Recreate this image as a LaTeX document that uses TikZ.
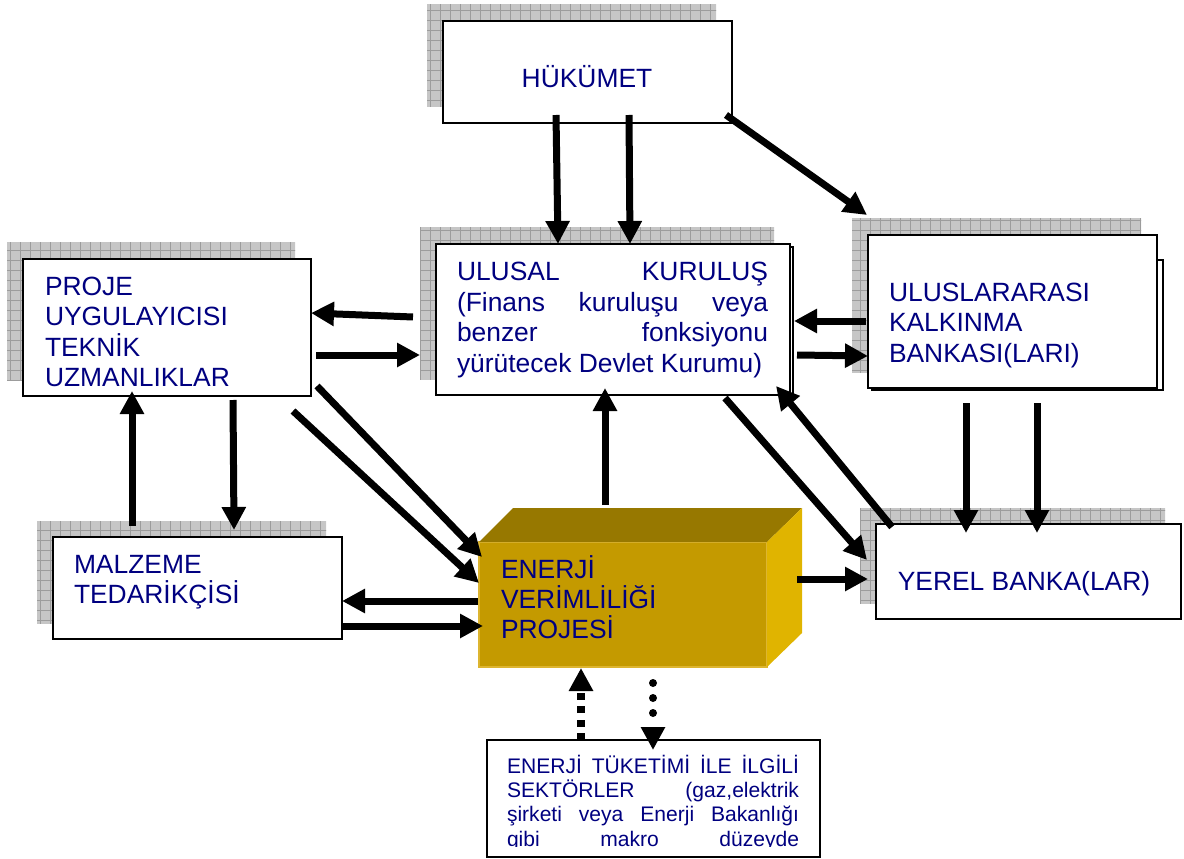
\documentclass[tikz,border=0pt]{standalone}
\usepackage{fontspec}
\setmainfont{Liberation Sans}
\usetikzlibrary{arrows.meta,calc}
\pgfdeclarelayer{bg}
\pgfsetlayers{bg,main}
\definecolor{txt}{HTML}{000080}
\definecolor{shfill}{HTML}{C6C6C6}
\definecolor{shgrid}{HTML}{9C9C9C}
\definecolor{enfront}{HTML}{C49A00}
\definecolor{entop}{HTML}{977800}
\definecolor{enright}{HTML}{E0B400}
\definecolor{enedge}{HTML}{DDB530}
\newcommand\mylines[2]{\vtop{\baselineskip=#1\lineskiplimit=-\maxdimen\lineskip=0pt\relax #2}}
\newcommand\shadowof[1]{%
  \begin{scope}
    \clip ($(#1.north west)+(-16,-16)$) rectangle ($(#1.south east)+(-16,-16)$);
    \fill[shfill] (0,0) rectangle (1184,859);
    \draw[shgrid, line width=0.7pt, step=7.5pt] (0,0) grid (1184,859);
  \end{scope}}
\tikzset{
  box/.style={draw=black, fill=white, line width=1.5pt, inner sep=0pt, outer sep=0pt, anchor=north west},
  sz/.style 2 args={minimum width=#1*0.75pt, minimum height=#2*0.75pt},
  page/.style={draw=black, fill=white, line width=1.5pt},
  lbl/.style={text=txt, inner sep=0pt, outer sep=0pt, font=\fontsize{19.8pt}{22.9pt}\selectfont},
  small/.style={text=txt, inner sep=0pt, outer sep=0pt, font=\fontsize{15.8pt}{18.3pt}\selectfont},
  arr/.style={line width=5.25pt, -{Triangle[length=17.25pt,width=17.25pt]}},
  dasharr/.style={line width=5.6pt, dash pattern=on 5.25pt off 4.8pt, -{Triangle[length=17.25pt,width=17.25pt]}},
  dotarr/.style={line width=6pt, line cap=round, dash pattern=on 0pt off 11.25pt on 0pt off 11.25pt on 0pt off 40pt, -{Triangle[length=17.25pt,width=17.25pt]}},
}
\begin{document}
\begin{tikzpicture}[x=0.75pt,y=-0.75pt]
\useasboundingbox (0,0) rectangle (1184,859);

% boxes
\node[box,sz={289}{102}] (hk) at (443,21) {};
\node[box,sz={354}{151}] (ul) at (436,244) {};
\node[box,sz={289}{153}] (ub) at (868,235) {};
\node[box,sz={288}{137}] (pr) at (23,259) {};
\node[box,sz={289}{102}] (ml) at (53,537) {};
\node[box,sz={305}{95}] (yb) at (876,524) {};
\node[box,sz={333}{117}] (bt) at (487,740) {};

% energy project block
\node[sz={288}{125}, anchor=north west, fill=enfront, draw=enedge, line width=0.8pt, inner sep=0pt, outer sep=0pt] (en) at (479,542) {};
\fill[entop] (en.north west) -- ++(34,-34) -- ++(289,0) -- (en.north east) -- cycle;
\fill[enright] (en.north east) -- ++(35,-34) -- ++(0,125) -- (en.south east) -- cycle;

\begin{pgfonlayer}{bg}
  \shadowof{hk}
  \shadowof{ul}
  \shadowof{ub}
  \shadowof{pr}
  \shadowof{ml}
  \shadowof{yb}
  \draw[page] (440,247) rectangle (793,395);
  \draw[page] (872,260) rectangle (1163,390);
\end{pgfonlayer}

% texts
\node[lbl,anchor=base] (hkt) at (587,88) {HÜKÜMET};
\node[lbl,anchor=base west] (ult) at (457,281) {\mylines{22.75pt}{%
  \hbox to 233.25pt{ULUSAL\hfill KURULUŞ}%
  \hbox to 233.25pt{(Finans\hfill kuruluşu\hfill veya}%
  \hbox to 233.25pt{benzer\hfill fonksiyonu}%
  \hbox{yürütecek Devlet Kurumu)}}};
\node[lbl,anchor=base west] (ubt) at (889,301) {\mylines{22.9pt}{\hbox{ULUSLARARASI}\hbox{KALKINMA}\hbox{BANKASI(LARI)}}};
\node[lbl,anchor=base west] (prt) at (45,295) {\mylines{22.9pt}{\hbox{PROJE}\hbox{UYGULAYICISI}\hbox{TEKNİK}\hbox{UZMANLIKLAR}}};
\node[lbl,anchor=base west] (mlt) at (74,573) {\mylines{22.5pt}{\hbox{MALZEME}\hbox{TEDARİKÇİSİ}}};
\node[lbl,anchor=base west] (ent) at (501,578) {\mylines{22.5pt}{\hbox{ENERJİ}\hbox{VERİMLİLİĞİ}\hbox{PROJESİ}}};
\node[lbl,anchor=base] (ybt) at (1024,590) {YEREL BANKA(LAR)};
\begin{scope}
  \clip (487,740) rectangle (820,846.5);
  \node[small,anchor=base west] (btt) at (507,773) {\mylines{18.3pt}{%
    \hbox to 219pt{ENERJİ\hfill TÜKETİMİ\hfill İLE\hfill İLGİLİ}%
    \hbox to 219pt{SEKTÖRLER\hfill (gaz,elektrik}%
    \hbox to 219pt{şirketi\hfill veya\hfill Enerji\hfill Bakanlığı}%
    \hbox to 219pt{gibi\hfill makro\hfill düzeyde}}};
\end{scope}

% connectors
\draw[arr] (556,115) -- (558,0 |- ul.north);
\draw[arr] (629,115) -- (630,0 |- ul.north);
\draw[arr] (726,115) -- (867,215);
\draw[arr] (413,317) -- (pr.east |- 0,313);
\draw[arr] (316,355) -- (420,355);
\draw[arr] (866,321) -- (794,321);
\draw[arr] (797,355) -- (ub.west |- 0,356);
\draw[arr] (725,398) -- (867,560);
\draw[arr] (892,527) -- (776,386);
\draw[arr] (966,403) -- (966,533);
\draw[arr] (1037,403) -- (1037,533);
\draw[arr] (233,400) -- (234,530);
\draw[arr] (132,526) -- (132,391);
\draw[arr] (317,386) -- (482,557);
\draw[arr] (293,411) -- (479,583);
\draw[arr] (478,601) -- (ml.east |- 0,601);
\draw[arr] (ml.east |- 0,626) -- (483,626);
\draw[arr] (605,505) -- (605,388);
\draw[arr] (797,579) -- (868,579);
\draw[dasharr] (581,0 |- bt.north) -- (581,668);
\draw[dotarr] (653,683) -- (653,750);
\end{tikzpicture}
\end{document}
